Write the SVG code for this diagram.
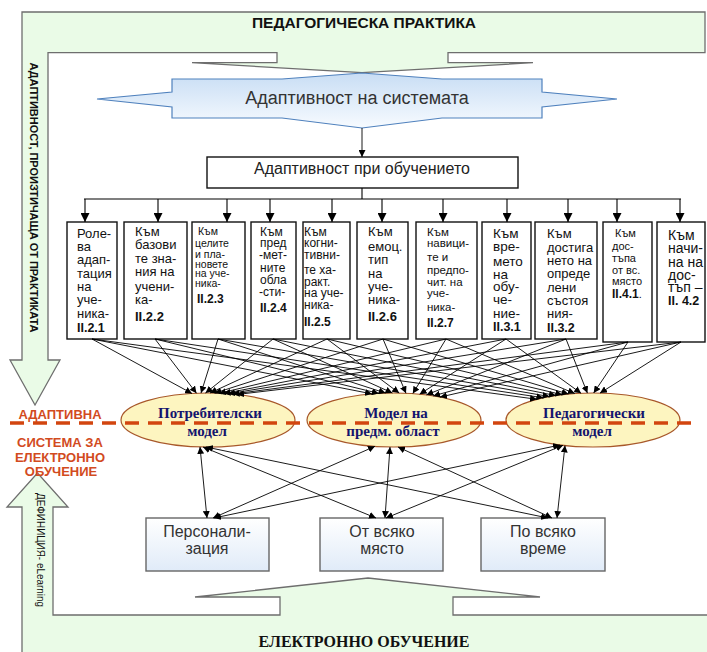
<svg xmlns="http://www.w3.org/2000/svg" width="707" height="652" viewBox="0 0 707 652">
  <defs>
    <linearGradient id="gBlue" x1="0" y1="0" x2="0" y2="1">
      <stop offset="0" stop-color="#c8ddf4"/>
      <stop offset="1" stop-color="#f7fbff"/>
    </linearGradient>
    <linearGradient id="gBox" x1="0" y1="0" x2="0" y2="1">
      <stop offset="0" stop-color="#ffffff"/>
      <stop offset="1" stop-color="#e0ebf8"/>
    </linearGradient>
    <marker id="ah" viewBox="0 0 10 10" refX="10" refY="5" markerWidth="7" markerHeight="7" markerUnits="userSpaceOnUse" orient="auto-start-reverse">
      <path d="M0,0 L10,5 L0,10 z" fill="#000"/>
    </marker>
    <marker id="ahb" viewBox="0 0 10 10" refX="10" refY="5" markerWidth="9" markerHeight="9" markerUnits="userSpaceOnUse" orient="auto">
      <path d="M0,0 L10,5 L0,10 z" fill="#000"/>
    </marker>
  </defs>
  <style>
    .green { fill:#eafbe7; stroke:#6e6e6e; stroke-width:1.3; }
    .hdr { font-family:"Liberation Sans", Arial, sans-serif; font-weight:bold; fill:#111; }
    .box { fill:#fff; stroke:#111; stroke-width:1.4; }
    .bt { font-family:"Liberation Sans", Arial, sans-serif; fill:#111; }
    .lab { font-weight:bold; }
    .ell { fill:#fdf5c0; stroke:#a8582a; stroke-width:1.2; }
    .et { font-family:"Liberation Serif", "Times New Roman", serif; font-weight:bold; font-size:15px; fill:#14146e; text-anchor:middle; }
    .ln { stroke:#000; stroke-width:0.9; fill:none; marker-end:url(#ah); }
    .dl { stroke:#000; stroke-width:0.9; fill:none; marker-start:url(#ah); marker-end:url(#ah); }
    .bus { stroke:#000; stroke-width:1.1; fill:none; }
    .busa { stroke:#000; stroke-width:1.1; fill:none; marker-end:url(#ahb); }
    .red { font-family:"Liberation Sans", Arial, sans-serif; font-weight:bold; font-size:13px; fill:#d24b1e; text-anchor:middle; }
    .pb { fill:url(#gBox); stroke:#666; stroke-width:1.4; }
    .pt { font-family:"Liberation Sans", Arial, sans-serif; font-size:16px; fill:#333; text-anchor:middle; }
  </style>

  <!-- practice callout with the downward arrow on the left -->
  <g id="practice">
    <path class="green" d="M22,12 H705 V52.7 H448 V62.7 H533 L362,72.7 L192,62.7 H277 V52.7 H48 V360 H60 L35,405 L10,360 H22 Z"/>
    <text class="hdr" x="364" y="28" font-size="15.5" text-anchor="middle">ПЕДАГОГИЧЕСКА ПРАКТИКА</text>
    <text class="hdr" font-size="11" transform="translate(30,197.5) rotate(90)" text-anchor="middle" textLength="270" lengthAdjust="spacingAndGlyphs">АДАПТИВНОСТ, ПРОИЗТИЧАЩА ОТ ПРАКТИКАТА</text>
  </g>

  <!-- e-learning callout with the upward arrow on the left -->
  <g id="elearning">
    <path class="green" d="M22,656 V507 H7 L37.5,473 L68,507 H53 V615 H280 V597 H195 L368,578 L540,597 H453 V615 H709 V656 Z"/>
    <text x="364" y="647" font-family="Liberation Serif, 'Times New Roman', serif" font-weight="bold" font-size="16" fill="#111" text-anchor="middle">ЕЛЕКТРОННО ОБУЧЕНИЕ</text>
    <text font-family="Liberation Sans, Arial, sans-serif" font-size="10.5" fill="#111" transform="translate(36.5,550) rotate(90)" text-anchor="middle" textLength="114" lengthAdjust="spacingAndGlyphs">ДЕФИНИЦИЯ- eLearning</text>
  </g>

  <!-- system adaptivity -->
  <g id="system">
    <path d="M172,79 H282 L362,73 L442,79 H542 V92 L617,99 L542,107 V118 H442 L362,128 L282,118 H172 V107 L97,99 L172,92 Z" fill="url(#gBlue)" stroke="#4f81bd" stroke-width="1.2"/>
    <text x="357" y="103.5" font-family="Liberation Sans, Arial, sans-serif" font-size="18" fill="#333" text-anchor="middle">Адаптивност на системата</text>
  </g>

  <!-- adaptivity in learning -->
  <g id="learning">
    <rect class="box" x="207" y="157" width="311" height="31" stroke-width="1.1"/>
    <text x="362" y="173.5" font-family="Liberation Sans, Arial, sans-serif" font-size="16" fill="#222" text-anchor="middle">Адаптивност при обучението</text>
  </g>

  <!-- eleven adaptation aspects -->
  <g id="a221">
    <rect class="box" x="67" y="222" width="50" height="117"/>
    <text class="bt" font-size="13">
      <tspan x="77" y="237.5">Роле-</tspan><tspan x="77" y="251">ва</tspan><tspan x="77" y="264.3">адап-</tspan><tspan x="77" y="277.6">тация</tspan><tspan x="77" y="291">на</tspan><tspan x="77" y="304.3">уче-</tspan><tspan x="77" y="317.6">ника-</tspan><tspan x="77" y="331.5" class="lab" font-size="12.5">II.2.1</tspan>
    </text>
  </g>
  <g id="a222">
    <rect class="box" x="124" y="222" width="63" height="117"/>
    <text class="bt" font-size="13">
      <tspan x="135" y="236">Към</tspan><tspan x="135" y="249.4">базови</tspan><tspan x="135" y="262.7">те зна-</tspan><tspan x="135" y="276">ния на</tspan><tspan x="135" y="291">учени-</tspan><tspan x="135" y="304.3">ка-</tspan><tspan x="135" y="321" class="lab">II.2.2</tspan>
    </text>
  </g>
  <g id="a223">
    <rect class="box" x="192" y="222" width="53" height="117"/>
    <text class="bt" font-size="10.5">
      <tspan x="198" y="235.3">Към</tspan><tspan x="195" y="247">целите</tspan><tspan x="195" y="257.6">и пла-</tspan><tspan x="195" y="267.6">новете</tspan><tspan x="195" y="277">на  уче-</tspan><tspan x="195" y="287">ника-</tspan><tspan x="197" y="302.5" class="lab" font-size="12">II.2.3</tspan>
    </text>
  </g>
  <g id="a224">
    <rect class="box" x="251" y="222" width="45" height="117"/>
    <text class="bt" font-size="12">
      <tspan x="260" y="235.7">Към</tspan><tspan x="260" y="247.3">пред</tspan><tspan x="259" y="259">-мет-</tspan><tspan x="260" y="272.3">ните</tspan><tspan x="260" y="284">обла</tspan><tspan x="259" y="295.7">-сти-</tspan><tspan x="260" y="311.5" class="lab">II.2.4</tspan>
    </text>
  </g>
  <g id="a225">
    <rect class="box" x="303" y="222" width="47" height="117"/>
    <text class="bt" font-size="12">
      <tspan x="304" y="235.7">Към</tspan><tspan x="304" y="247.3">когни-</tspan><tspan x="304" y="259">тивни-</tspan><tspan x="304" y="274">те ха-</tspan><tspan x="304" y="285.7">ракт.</tspan><tspan x="304" y="297.3">на уче-</tspan><tspan x="304" y="309">ника-</tspan><tspan x="304" y="326" class="lab">II.2.5</tspan>
    </text>
  </g>
  <g id="a226">
    <rect class="box" x="357" y="222" width="51" height="117"/>
    <text class="bt" font-size="13">
      <tspan x="368" y="236">Към</tspan><tspan x="368" y="251">емоц.</tspan><tspan x="368" y="264.3">тип</tspan><tspan x="368" y="277.6">на</tspan><tspan x="368" y="291">уче-</tspan><tspan x="368" y="304.3">ника-</tspan><tspan x="368" y="321" class="lab">II.2.6</tspan>
    </text>
  </g>
  <g id="a227">
    <rect class="box" x="416" y="222" width="61" height="117"/>
    <text class="bt" font-size="11.5">
      <tspan x="427" y="235.7">Към</tspan><tspan x="427" y="247.3">навици-</tspan><tspan x="427" y="260.7">те и</tspan><tspan x="427" y="274">предпо-</tspan><tspan x="427" y="285.7">чит. на</tspan><tspan x="427" y="297.3">уче-</tspan><tspan x="427" y="310.7">ника-</tspan><tspan x="427" y="326.5" class="lab" font-size="12">II.2.7</tspan>
    </text>
  </g>
  <g id="a231">
    <rect class="box" x="482" y="222" width="49" height="117"/>
    <text class="bt" font-size="13.5">
      <tspan x="493" y="237.7">Към</tspan><tspan x="493" y="251">вре-</tspan><tspan x="493" y="266">мето</tspan><tspan x="493" y="279.3">на</tspan><tspan x="493" y="291">обу-</tspan><tspan x="493" y="304.3">че-</tspan><tspan x="493" y="317.6">ние-</tspan><tspan x="493" y="331" class="lab" font-size="12.5">II.3.1</tspan>
    </text>
  </g>
  <g id="a232">
    <rect class="box" x="535" y="222" width="62" height="117"/>
    <text class="bt" font-size="13">
      <tspan x="547" y="237.7">Към</tspan><tspan x="547" y="251.5">достига</tspan><tspan x="547" y="265">нето на</tspan><tspan x="547" y="278.3">опреде</tspan><tspan x="547" y="291.7">лени</tspan><tspan x="547" y="305">състоя</tspan><tspan x="547" y="318.3">ния-</tspan><tspan x="547" y="331.7" class="lab" font-size="12.5">II.3.2</tspan>
    </text>
  </g>
  <g id="a241">
    <rect class="box" x="603" y="222" width="49" height="120"/>
    <text class="bt" font-size="11">
      <tspan x="615" y="237">Към</tspan><tspan x="612" y="250.4">дос-</tspan><tspan x="612" y="262">тъпа</tspan><tspan x="612" y="273.7">от вс.</tspan><tspan x="612" y="285.4">място</tspan><tspan x="612" y="297.7"><tspan class="lab" font-size="12">II.4.1</tspan>.</tspan>
    </text>
  </g>
  <g id="a242">
    <rect class="box" x="657" y="222" width="48" height="120"/>
    <text class="bt" font-size="14">
      <tspan x="668" y="240">Към</tspan><tspan x="668" y="253.3">начи-</tspan><tspan x="668" y="266.7">на на</tspan><tspan x="668" y="280">дос-</tspan><tspan x="668" y="291.7">тъп –</tspan><tspan x="668" y="304.5" class="lab" font-size="12.5">II. 4.2</tspan>
    </text>
  </g>

  <!-- models -->
  <g id="userModel">
    <ellipse class="ell" cx="208" cy="420" rx="87" ry="27"/>
  </g>
  <g id="domainModel">
    <ellipse class="ell" cx="394" cy="420" rx="87" ry="27"/>
  </g>
  <g id="pedModel">
    <ellipse class="ell" cx="593" cy="420" rx="87" ry="27"/>
  </g>

  <!-- personalization / anywhere / anytime -->
  <g id="personal">
    <rect class="pb" x="146" y="518" width="123" height="53"/>
    <text class="pt"><tspan x="207" y="536.5">Персонали-</tspan><tspan x="207" y="553.5">зация</tspan></text>
  </g>
  <g id="anyplace">
    <rect class="pb" x="320" y="518" width="123" height="53"/>
    <text class="pt"><tspan x="382" y="536.5">От всяко</tspan><tspan x="382" y="553.5">място</tspan></text>
  </g>
  <g id="anytime">
    <rect class="pb" x="481" y="518" width="124" height="53"/>
    <text class="pt"><tspan x="543" y="536.5">По всяко</tspan><tspan x="543" y="553.5">време</tspan></text>
  </g>

  <!-- connectors -->
  <g id="connectors">
    <line class="ln" x1="362" y1="128" x2="362" y2="157"/>
    <polyline class="bus" points="362,188 362,199"/>
    <line class="bus" x1="84" y1="199" x2="681" y2="199"/>
    <line class="busa" x1="85" y1="199" x2="85" y2="222"/>
    <line class="busa" x1="158" y1="199" x2="158" y2="222"/>
    <line class="busa" x1="227" y1="199" x2="227" y2="222"/>
    <line class="busa" x1="270" y1="199" x2="270" y2="222"/>
    <line class="busa" x1="332" y1="199" x2="332" y2="222"/>
    <line class="busa" x1="382" y1="199" x2="382" y2="222"/>
    <line class="busa" x1="443" y1="199" x2="443" y2="222"/>
    <line class="busa" x1="507" y1="199" x2="507" y2="222"/>
    <line class="busa" x1="568" y1="199" x2="568" y2="222"/>
    <line class="busa" x1="617" y1="199" x2="617" y2="222"/>
    <line class="busa" x1="680" y1="199" x2="680" y2="222"/>

    <!-- aspects to the user model -->
    <line class="ln" x1="92" y1="339" x2="192" y2="393.5"/>
    <line class="ln" x1="155" y1="339" x2="196.5" y2="393.3"/>
    <line class="ln" x1="218" y1="339" x2="201" y2="393.1"/>
    <line class="ln" x1="273" y1="339" x2="205.5" y2="393"/>
    <line class="ln" x1="327" y1="339" x2="210" y2="393"/>
    <line class="ln" x1="383" y1="339" x2="214.5" y2="393.2"/>
    <line class="ln" x1="446" y1="339" x2="219" y2="393.4"/>
    <line class="ln" x1="506" y1="339" x2="223.5" y2="393.6"/>
    <line class="ln" x1="566" y1="339" x2="228" y2="393.8"/>
    <line class="ln" x1="628" y1="342" x2="232.5" y2="394.1"/>
    <line class="ln" x1="681" y1="342" x2="237" y2="394.5"/>
    <!-- aspects to the domain model -->
    <line class="ln" x1="92" y1="339" x2="372" y2="393.9"/>
    <line class="ln" x1="155" y1="339" x2="378.8" y2="393.4"/>
    <line class="ln" x1="218" y1="339" x2="385.6" y2="393.1"/>
    <line class="ln" x1="273" y1="339" x2="392.4" y2="393"/>
    <line class="ln" x1="327" y1="339" x2="399.2" y2="393.1"/>
    <line class="ln" x1="383" y1="339" x2="406" y2="393.3"/>
    <line class="ln" x1="446" y1="339" x2="412.8" y2="393.6"/>
    <line class="ln" x1="506" y1="339" x2="419.6" y2="394.2"/>
    <line class="ln" x1="566" y1="339" x2="426.4" y2="394.9"/>
    <line class="ln" x1="628" y1="342" x2="433.2" y2="395.9"/>
    <line class="ln" x1="681" y1="342" x2="440" y2="397.1"/>
    <!-- aspects to the pedagogical model -->
    <line class="ln" x1="92" y1="339" x2="537" y2="399.3"/>
    <line class="ln" x1="155" y1="339" x2="543.3" y2="397.8"/>
    <line class="ln" x1="218" y1="339" x2="549.6" y2="396.6"/>
    <line class="ln" x1="273" y1="339" x2="555.9" y2="395.6"/>
    <line class="ln" x1="327" y1="339" x2="562.2" y2="394.7"/>
    <line class="ln" x1="383" y1="339" x2="568.5" y2="394.1"/>
    <line class="ln" x1="446" y1="339" x2="574.8" y2="393.6"/>
    <line class="ln" x1="506" y1="339" x2="581.1" y2="393.3"/>
    <line class="ln" x1="566" y1="339" x2="587.4" y2="393.1"/>
    <line class="ln" x1="628" y1="342" x2="593.7" y2="393"/>
    <line class="ln" x1="681" y1="342" x2="600" y2="393.1"/>

    <!-- models to personalization, place and time -->
    <line class="dl" x1="200" y1="446.9" x2="207" y2="518"/>
    <line class="dl" x1="203" y1="447" x2="376" y2="518"/>
    <line class="dl" x1="206" y1="447" x2="548" y2="518"/>
    <line class="dl" x1="375" y1="446.3" x2="213" y2="518"/>
    <line class="dl" x1="390" y1="447" x2="385" y2="518"/>
    <line class="dl" x1="398" y1="447" x2="552" y2="518"/>
    <line class="dl" x1="560" y1="445" x2="214" y2="518"/>
    <line class="dl" x1="563" y1="445.3" x2="386" y2="518"/>
    <line class="dl" x1="565" y1="445.5" x2="557" y2="518"/>
  </g>

  <!-- boundary of the adaptive e-learning system -->
  <g id="boundary">
    <line x1="10" y1="423" x2="692" y2="423" stroke="#d2450f" stroke-width="3.5" stroke-dasharray="14 9"/>
    <text class="red" x="60" y="419">АДАПТИВНА</text>
    <text class="red" x="60" y="447">СИСТЕМА ЗА</text>
    <text class="red" x="60" y="462">ЕЛЕКТРОННО</text>
    <text class="red" x="61" y="476">ОБУЧЕНИЕ</text>
  </g>

  <!-- model captions -->
  <g id="modelText">
    <text class="et"><tspan x="210" y="418">Потребителски</tspan><tspan x="207" y="436">модел</tspan></text>
    <text class="et"><tspan x="396" y="418">Модел на</tspan><tspan x="393" y="436">предм. област</tspan></text>
    <text class="et"><tspan x="594" y="418">Педагогически</tspan><tspan x="592" y="436">модел</tspan></text>
  </g>
</svg>
